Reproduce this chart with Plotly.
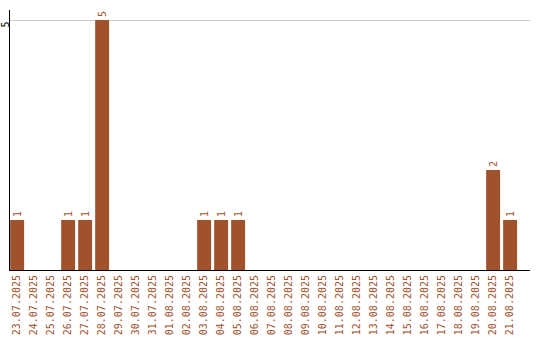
import plotly.graph_objects as go

dates = ["23.07.2025", "24.07.2025", "25.07.2025", "26.07.2025", "27.07.2025",
         "28.07.2025", "29.07.2025", "30.07.2025", "31.07.2025", "01.08.2025",
         "02.08.2025", "03.08.2025", "04.08.2025", "05.08.2025", "06.08.2025",
         "07.08.2025", "08.08.2025", "09.08.2025", "10.08.2025", "11.08.2025",
         "12.08.2025", "13.08.2025", "14.08.2025", "15.08.2025", "16.08.2025",
         "17.08.2025", "18.08.2025", "19.08.2025", "20.08.2025", "21.08.2025"]
counts = [1, 0, 0, 1, 1, 5, 0, 0, 0, 0,
          0, 1, 1, 1, 0, 0, 0, 0, 0, 0,
          0, 0, 0, 0, 0, 0, 0, 0, 2, 1]

bar_color = "#A0522D"
labels = [str(v) if v > 0 else "" for v in counts]

fig = go.Figure(go.Bar(
    x=dates,
    y=counts,
    marker=dict(color=bar_color, line=dict(width=0)),
    width=0.82,
    text=labels,
    textposition="outside",
    textangle=-90,
    textfont=dict(family="DejaVu Sans Mono", size=10, color=bar_color),
    cliponaxis=False,
))

fig.update_layout(
    width=540, height=340,
    margin=dict(l=10, r=10, t=10, b=70),
    plot_bgcolor="white",
    paper_bgcolor="white",
    showlegend=False,
    bargap=0.18,
)
fig.update_xaxes(
    type="category",
    range=[-0.42, 30.17],
    tickangle=-90,
    tickfont=dict(family="DejaVu Sans Mono", size=10, color=bar_color),
    showline=True, linecolor="black", linewidth=1,
    showgrid=False, ticks="",
    automargin=False,
)
fig.update_yaxes(
    range=[0, 5.2],
    tickvals=[5],
    ticktext=["5"],
    tickangle=-90,
    ticklabelstandoff=-4,
    ticklabelshift=6,
    tickfont=dict(family="DejaVu Sans Mono", size=10, color="black"),
    showline=True, linecolor="black", linewidth=1,
    showgrid=True, gridcolor="#cccccc", gridwidth=1,
    zeroline=False, ticks="",
    automargin=False,
)

fig.write_html("out.html")
